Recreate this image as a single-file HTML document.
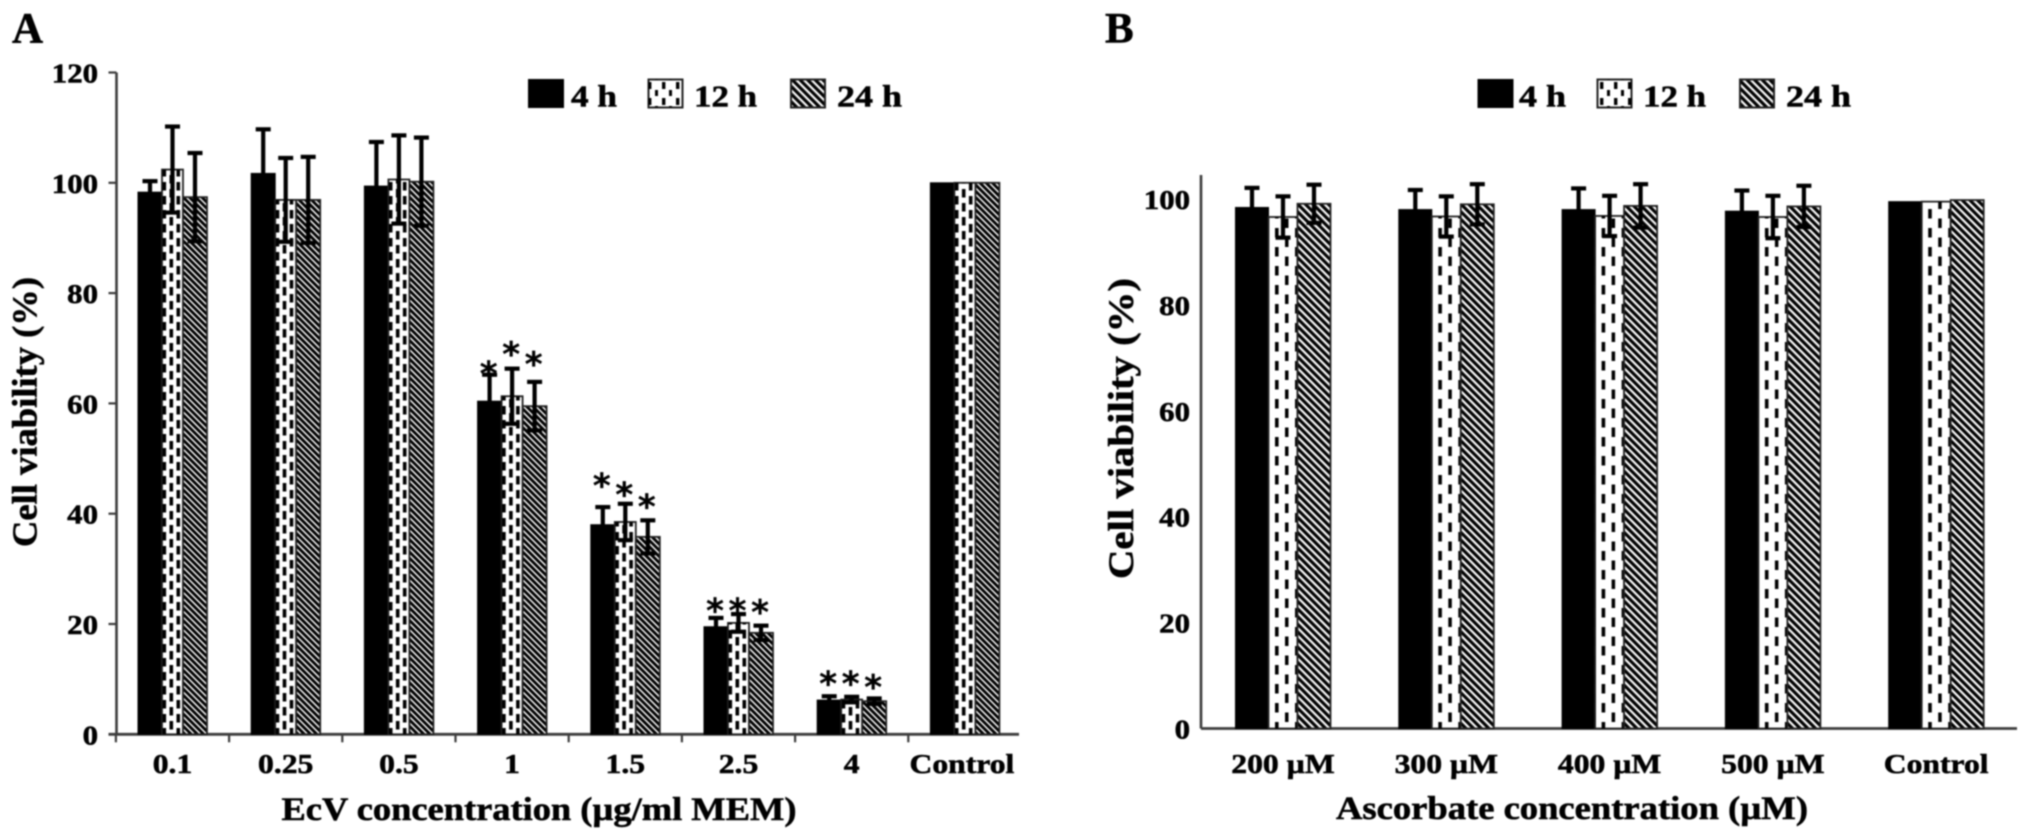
<!DOCTYPE html>
<html lang="en">
<head>
<meta charset="utf-8">
<title>Cell viability charts</title>
<style>
html,body{margin:0;padding:0;background:#fff;width:2031px;height:840px;overflow:hidden}
svg{display:block;filter:blur(0.7px)}
text{font-family:"Liberation Serif",serif;font-weight:bold;fill:#000;stroke:#000;stroke-width:0.55px}
.star{font-family:"DejaVu Sans",sans-serif;font-weight:bold;font-size:34px;text-anchor:middle;fill:#000;stroke-width:0.3px}
</style>
</head>
<body>
<svg id="fig" xmlns="http://www.w3.org/2000/svg" width="2031" height="840" viewBox="0 0 2031 840">
<defs>
<pattern id="dotsA" patternUnits="userSpaceOnUse" width="14" height="14">
<rect x="0.5" y="0" width="3.6" height="8.5" fill="#000"/>
<rect x="7.5" y="7" width="3.6" height="8.5" fill="#000"/>
<rect x="7.5" y="-7" width="3.6" height="8.5" fill="#000"/>
</pattern>
<pattern id="dotsB" patternUnits="userSpaceOnUse" width="20" height="19">
<rect x="6.5" y="0" width="3.6" height="9.5" fill="#000"/>
<rect x="16.5" y="9.5" width="3.6" height="9.5" fill="#000"/>
</pattern>
<pattern id="dotsL" patternUnits="userSpaceOnUse" width="14" height="16">
<rect x="4" y="2" width="3.4" height="7" fill="#000"/>
<rect x="11" y="10" width="3.4" height="6" fill="#000"/>
</pattern>
<pattern id="hatchA" patternUnits="userSpaceOnUse" width="4.4" height="4.4" patternTransform="rotate(-45)">
<rect width="4.4" height="4.4" fill="#fff"/>
<rect width="2.9" height="4.4" fill="#000"/>
</pattern>
<pattern id="hatchB" patternUnits="userSpaceOnUse" width="5.4" height="5.4" patternTransform="rotate(-45)">
<rect width="5.4" height="5.4" fill="#fff"/>
<rect width="3.2" height="5.4" fill="#000"/>
</pattern>
</defs>

<rect x="0" y="0" width="2031" height="840" fill="#fff"/>

<text x="12" y="42.5" font-size="43">A</text>
<text x="1105" y="42.5" font-size="43">B</text>

<g id="panelA"></g>
<g id="panelB"></g>

<text transform="translate(36.5 412) rotate(-90)" text-anchor="middle" font-size="35" textLength="270" lengthAdjust="spacingAndGlyphs">Cell viability (%)</text>
<text x="539" y="820" text-anchor="middle" font-size="33" textLength="515" lengthAdjust="spacingAndGlyphs">EcV concentration (µg/ml MEM)</text>
<text transform="translate(1133 428.5) rotate(-90)" text-anchor="middle" font-size="36" textLength="301" lengthAdjust="spacingAndGlyphs">Cell viability (%)</text>
<text x="1572" y="819" text-anchor="middle" font-size="33" textLength="472" lengthAdjust="spacingAndGlyphs">Ascorbate concentration (µM)</text>

<g>
<g>
<rect x="528" y="79" width="36" height="29" fill="#000"/>
<text x="571" y="106.5" font-size="31" textLength="46" lengthAdjust="spacingAndGlyphs">4 h</text>
</g>
<g>
<rect x="648.5" y="79.5" width="34" height="28" fill="#fff" stroke="#222" stroke-width="2"/>
<rect x="648.5" y="79.5" width="34" height="28" fill="url(#dotsL)"/>
<text x="694" y="106.5" font-size="31" textLength="63" lengthAdjust="spacingAndGlyphs">12 h</text>
</g>
<g>
<rect x="791" y="79.5" width="34" height="28" fill="url(#hatchB)" stroke="#222" stroke-width="2"/>
<text x="837" y="106.5" font-size="31" textLength="65" lengthAdjust="spacingAndGlyphs">24 h</text>
</g>
</g>

<g>
<g>
<rect x="1477.5" y="79" width="36" height="29" fill="#000"/>
<text x="1519" y="106.5" font-size="31" textLength="47" lengthAdjust="spacingAndGlyphs">4 h</text>
</g>
<g>
<rect x="1597.5" y="79.5" width="34" height="28" fill="#fff" stroke="#222" stroke-width="2"/>
<rect x="1597.5" y="79.5" width="34" height="28" fill="url(#dotsL)"/>
<text x="1643" y="106.5" font-size="31" textLength="63" lengthAdjust="spacingAndGlyphs">12 h</text>
</g>
<g>
<rect x="1740" y="79.5" width="34" height="28" fill="url(#hatchB)" stroke="#222" stroke-width="2"/>
<text x="1786" y="106.5" font-size="31" textLength="65" lengthAdjust="spacingAndGlyphs">24 h</text>
</g>
</g>
</svg>

<script>
// Panel A data
var categoriesA = ['0.1', '0.25', '0.5', '1', '1.5', '2.5', '4', 'Control'];
var seriesNames = ['4h', '12h', '24h'];
var values4hA = [98.3, 101.7, 99.4, 60.4, 38, 19.5, 6.2, 100];
var values12hA = [102.4, 96.9, 100.6, 61.3, 38.5, 20.2, 6.3, 100];
var values24hA = [97.4, 96.9, 100.2, 59.5, 35.8, 18.4, 6, 100];
var errors4hA = [2, 8, 8, 4.8, 3.2, 1.6, 0.7, 0];
var errors12hA = [7.8, 7.6, 8, 5, 3.3, 1.6, 0.5, 0];
var errors24hA = [8, 7.8, 8, 4.4, 3, 1.3, 0.5, 0];
var stars4hA = [null, null, null, 66.8, 46.5, 23.8, 10.6, null];
var stars12hA = [null, null, null, 70.3, 44.8, 23.8, 10.6, null];
var stars24hA = [null, null, null, 68.5, 42.7, 23.5, 9.9, null];
var ticksA = [0, 20, 40, 60, 80, 100, 120];

// Panel B data
var categoriesB = ['200 µM', '300 µM', '400 µM', '500 µM', 'Control'];
var values4hB = [98.4, 98, 98, 97.7, 99.5];
var values12hB = [96.6, 96.7, 96.8, 96.6, 99.5];
var values24hB = [99.1, 99, 98.7, 98.6, 99.8];
var errors4hB = [3.7, 3.7, 4, 3.9, 0];
var errors12hB = [3.9, 3.8, 3.8, 4, 0];
var errors24hB = [3.6, 3.8, 4.1, 3.9, 0];
var ticksB = [0, 20, 40, 60, 80, 100];

var NS = 'http://www.w3.org/2000/svg';

function xA(i) { return 172.5 + i * 113.2; }
function yA(v) { return 734.3 - v * 5.515; }
function xB(i) { return 1283 + i * 163.3; }
function yB(v) { return 728.5 - v * 5.295; }

function make(tag, parent) {
  var el = document.createElementNS(NS, tag);
  parent.appendChild(el);
  return el;
}
function set(el, attrs) {
  for (var k in attrs) el.setAttribute(k, attrs[k]);
  return el;
}

function drawAxes(g, o) {
  var axisColor = '#3c3c3c';
  var yLine = make('line', g);
  
  
  set(yLine, {x1: o.axisX, x2: o.axisX, y1: o.axisTop, y2: o.y(0), stroke: axisColor, 'stroke-width': 2.6});
  var xLine = make('line', g);
  
  
  set(xLine, {x1: o.axisX - (o.yTicks ? 8 : 0), x2: o.axisEnd, y1: o.y(0), y2: o.y(0), stroke: axisColor, 'stroke-width': 2.8});

  o.ticks.forEach(function (t) {
    if (o.yTicks) {
      var tick = make('line', g);
      
      
      set(tick, {x1: o.axisX - 8, x2: o.axisX, y1: o.y(t), y2: o.y(t), stroke: axisColor, 'stroke-width': 2.2});
    }
    var lab = make('text', g);
    
    
    set(lab, {x: o.labelRight, y: o.y(t) + o.labelDy, 'text-anchor': 'end', 'font-size': 27.5});
    lab.textContent = String(t);
    lab.setAttribute('textLength', (lab.getComputedTextLength() * 1.12).toFixed(1));
    lab.setAttribute('lengthAdjust', 'spacingAndGlyphs');
  });

  o.categories.forEach(function (c, i) {
    if (o.xTicks) {
      var tick = make('line', g);
      
      
      var tx = o.x(i) - o.step / 2;
      set(tick, {x1: tx, x2: tx, y1: o.y(0), y2: o.y(0) + 8, stroke: axisColor, 'stroke-width': 2.2});
    }
    var lab = make('text', g);
    
    
    set(lab, {x: o.x(i) - (i === o.categories.length - 1 && o.xTicks ? 3 : 0), y: 773, 'text-anchor': 'middle', 'font-size': 27.5});
    lab.textContent = c;
    lab.setAttribute('textLength', (lab.getComputedTextLength() * 1.15).toFixed(1));
    lab.setAttribute('lengthAdjust', 'spacingAndGlyphs');
  });
}

function drawBars(g, o) {
  var marks = make('g', g);
  
  
  o.series.forEach(function (vals, s) {
    vals.forEach(function (v, i) {
      var left = o.x(i) + o.barOffsets[s];
      var w = o.barWidths[s];
      var top = o.y(v);
      var h = o.y(0) - top;
      var bar = document.createElementNS(NS, 'rect');
      g.insertBefore(bar, marks);
      
      
      var common = {x: 0, y: top, width: w, height: h, transform: 'translate(' + left + ' 0)'};
      if (s === 0) {
        set(bar, common);
        bar.setAttribute('fill', '#000');
        bar.setAttribute('stroke', '#000');
        bar.setAttribute('stroke-width', '1');
      } else {
        set(bar, common);
        bar.setAttribute('fill', s === 1 ? '#fff' : 'url(#' + o.hatch + ')');
        bar.setAttribute('stroke', '#222');
        bar.setAttribute('stroke-width', '1.8');
        if (s === 1) {
          var over = document.createElementNS(NS, 'rect');
          g.insertBefore(over, marks);
          
          
          set(over, common);
          over.setAttribute('fill', 'url(#' + o.dots + ')');
        }
      }
      var err = o.errors[s][i];
      if (err > 0) {
        var cx = left + w / 2;
        var hi = o.y(v + err);
        var lo = o.y(v - err);
        var stem = make('line', marks);
        
        
        set(stem, {x1: cx, x2: cx, y1: hi, y2: lo, stroke: '#000', 'stroke-width': 4.2});
        [hi, lo].forEach(function (cy) {
          var cap = make('line', marks);
          
          
          set(cap, {x1: cx - 7.5, x2: cx + 7.5, y1: cy, y2: cy, stroke: '#000', 'stroke-width': 4.2});
        });
      }
      if (o.stars && o.stars[s][i] !== null) {
        var star = make('text', g);
        
        
        star.setAttribute('class', 'star');
        star.setAttribute('x', left + w / 2 - 1);
        star.setAttribute('y', o.y(o.stars[s][i]) + 19.5);
        star.textContent = '*';
      }
    });
  });
}

var gA = document.getElementById('panelA');
var gB = document.getElementById('panelB');

var cfgA = {
  categories: categoriesA, x: xA, y: yA, ticks: ticksA, step: 113.2,
  axisX: 116.5, axisTop: 72.5, axisEnd: 1019, yTicks: true, xTicks: true,
  labelRight: 98, labelDy: 10,
  barOffsets: [-34.5, -10.5, 10.5], barWidths: [24, 21, 24],
  series: [values4hA, values12hA, values24hA],
  errors: [errors4hA, errors12hA, errors24hA],
  stars: [stars4hA, stars12hA, stars24hA],
  dots: 'dotsA', hatch: 'hatchA'
};
var cfgB = {
  categories: categoriesB, x: xB, y: yB, ticks: ticksB, step: 163.3,
  axisX: 1201, axisTop: 175, axisEnd: 2017, yTicks: false, xTicks: false,
  labelRight: 1190, labelDy: 10,
  barOffsets: [-47.5, -14.5, 14.5], barWidths: [33, 29, 33],
  series: [values4hB, values12hB, values24hB],
  errors: [errors4hB, errors12hB, errors24hB],
  stars: null,
  dots: 'dotsB', hatch: 'hatchB'
};

drawAxes(gA, cfgA);
drawBars(gA, cfgA);
drawAxes(gB, cfgB);
drawBars(gB, cfgB);
</script>
</body>
</html>
